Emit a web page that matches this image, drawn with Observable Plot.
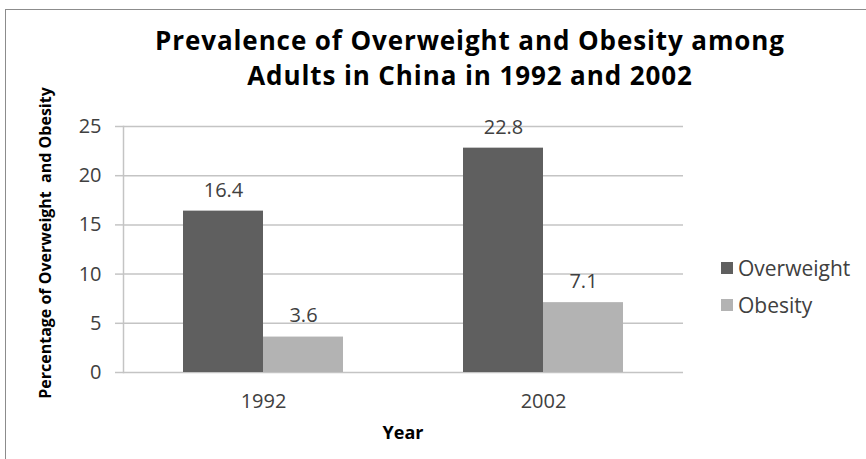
<!DOCTYPE html>
<html><head><meta charset="utf-8">
<script src="https://cdn.jsdelivr.net/npm/d3@7"></script>
<script src="https://cdn.jsdelivr.net/npm/@observablehq/plot@0.6"></script>
<style>
body{margin:0;background:#fff;font-family:"Open Sans",sans-serif;}
#wrap{position:relative;width:866px;height:459px;overflow:hidden;background:#fff}
#border{position:absolute;left:5px;top:9px;width:900px;height:500px;border-left:1.5px solid #8c8c8c;border-top:1.5px solid #8c8c8c;}
.tl{position:absolute;left:0;width:940px;text-align:center;font-weight:bold;font-size:26px;letter-spacing:0.9px;line-height:30px;color:#000;white-space:nowrap}
#t1{top:25px}
#t2{top:60px}
#chart{position:absolute;left:0;top:100px}
#ylabel{position:absolute;left:45px;top:243px;transform:translate(-50%,-50%) rotate(-90deg);white-space:pre;font-weight:bold;font-size:16px;color:#000}
#xlabel{position:absolute;left:403px;top:432px;transform:translate(-50%,-50%);font-weight:bold;font-size:18px;color:#000}
#legend{position:absolute;left:721px;top:249px;font-size:21px;color:#404040}
.li{display:flex;align-items:center;height:37px}
.sw{width:12px;height:12px;margin-right:5px}
</style></head>
<body>
<div id="wrap">
  <div id="border"></div>
  <div class="tl" id="t1">Prevalence of Overweight and Obesity among</div>
  <div class="tl" id="t2">Adults in China in 1992 and 2002</div>
  <div id="chart"></div>
  <div id="ylabel">Percentage of Overweight  and Obesity</div>
  <div id="xlabel">Year</div>
  <div id="legend"></div>
</div>
<script>
const years = ["1992", "2002"];
const series = ["Overweight", "Obesity"];
const overweight = [16.4, 22.8];
const obesity = [3.6, 7.1];
const colors = ["#5f5f5f", "#b3b3b3"];
const yTicks = [0, 5, 10, 15, 20, 25];

const data = years.flatMap((yr, i) => [
  {year: yr, series: "Overweight", value: overweight[i]},
  {year: yr, series: "Obesity", value: obesity[i]}
]);

const chart = Plot.plot({
  width: 866, height: 359,
  marginLeft: 123, marginRight: 183, marginTop: 26, marginBottom: 87,
  style: {fontFamily: "Open Sans", fontSize: "20px", color: "#404040", background: "transparent"},
  fx: {domain: years, paddingInner: 0, paddingOuter: 0, label: null},
  x: {domain: series, paddingInner: 0, paddingOuter: 0.75, axis: null},
  y: {domain: [0, 25], label: null},
  color: {domain: series, range: colors},
  marks: [
    Plot.gridY(yTicks, {stroke: "#c4c4c4", strokeOpacity: 1, strokeWidth: 1.5}),
    Plot.frame({anchor: "left", fx: [years[0]], stroke: "#c4c4c4", strokeWidth: 1.5}),
    Plot.barY(data, {fx: "year", x: "series", y: "value", fill: "series"}),
    Plot.text(data, {fx: "year", x: "series", y: "value", text: d => d.value.toFixed(1), dy: -21, fontSize: 20, fill: "#404040"}),
    Plot.axisY(yTicks, {tickSize: 8, tickPadding: 14, stroke: "#c4c4c4", strokeWidth: 1.5, fill: "#404040", fontSize: 20, label: null}),
    Plot.axisFx({anchor: "bottom", tickSize: 0, tickPadding: 21, fontSize: 20, fill: "#404040", label: null})
  ]
});
document.getElementById("chart").appendChild(chart);

const legend = document.getElementById("legend");
series.forEach((s, i) => {
  const row = document.createElement("div");
  row.className = "li";
  const sw = document.createElement("div");
  sw.className = "sw";
  sw.style.background = colors[i];
  const t = document.createElement("span");
  t.textContent = s;
  row.appendChild(sw); row.appendChild(t);
  legend.appendChild(row);
});
</script>
</body></html>
